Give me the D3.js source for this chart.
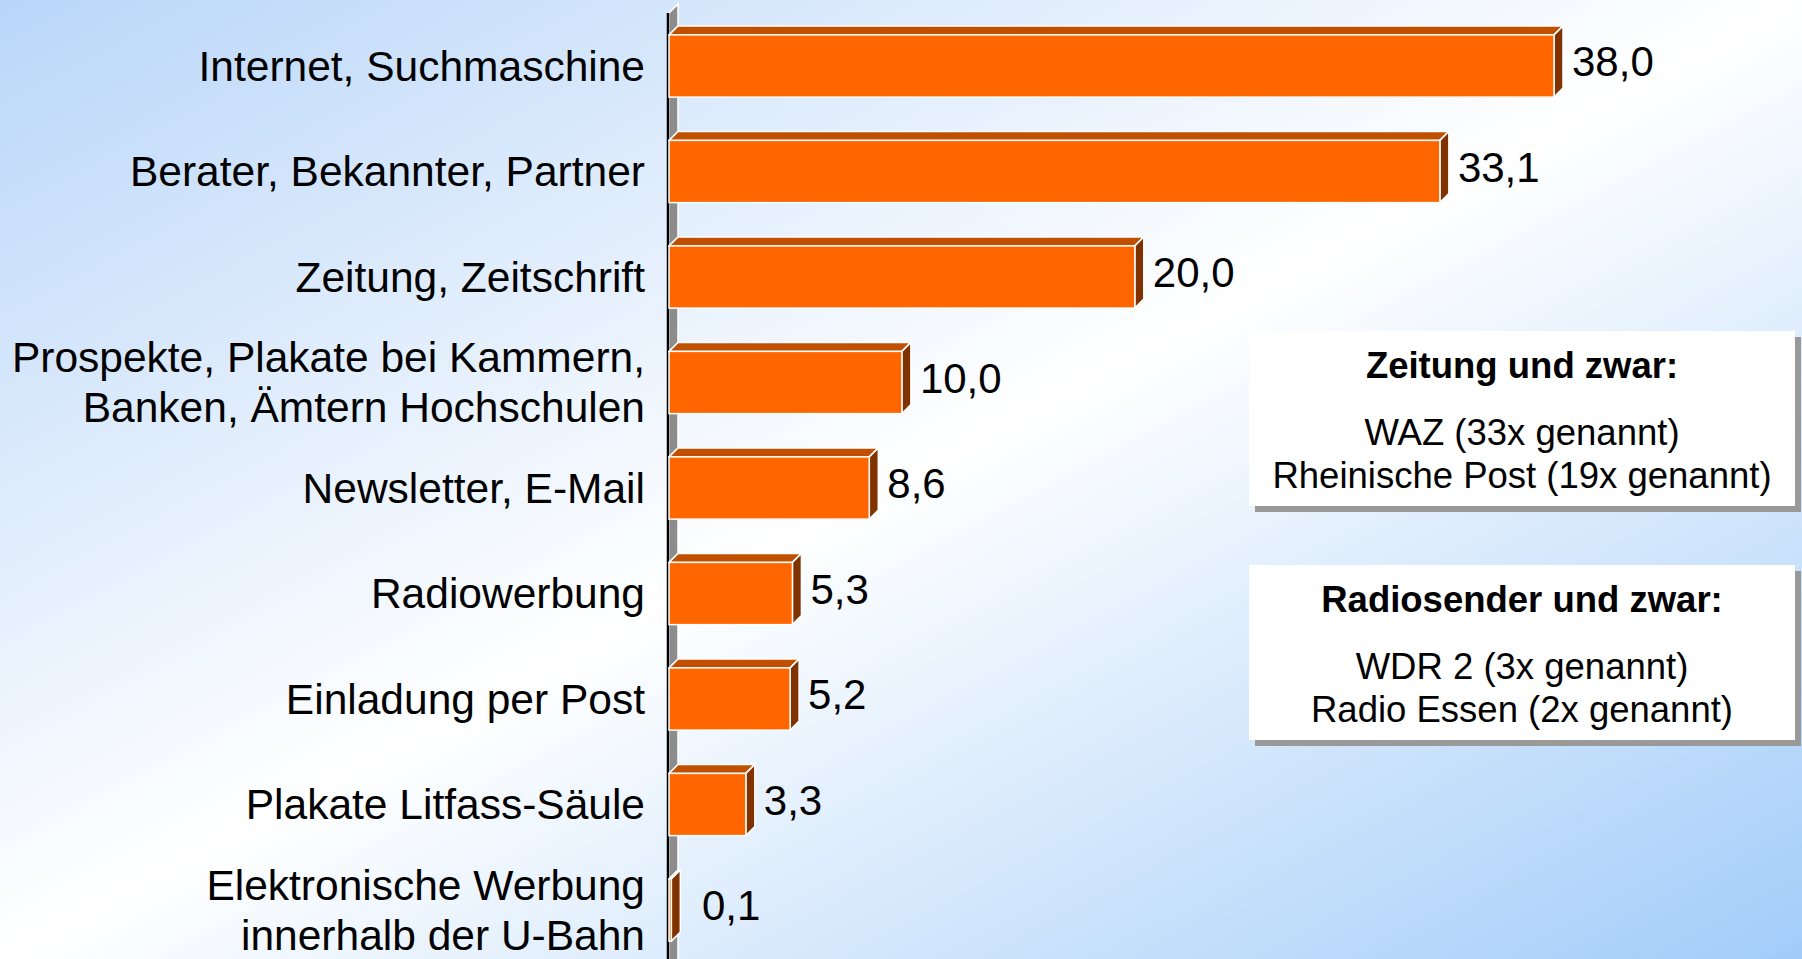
<!DOCTYPE html>
<html>
<head>
<meta charset="utf-8">
<script src="https://cdn.jsdelivr.net/npm/d3@7"></script>
<style>
  body { margin: 0; overflow: hidden; }
  text { font-family: "Liberation Sans", Arial, sans-serif; fill: #000; }
</style>
</head>
<body>
<div id="chart"></div>
<script>
// data
const categories = [
  "Internet, Suchmaschine",
  "Berater, Bekannter, Partner",
  "Zeitung, Zeitschrift",
  "Prospekte, Plakate bei Kammern,\nBanken, Ämtern Hochschulen",
  "Newsletter, E-Mail",
  "Radiowerbung",
  "Einladung per Post",
  "Plakate Litfass-Säule",
  "Elektronische Werbung\ninnerhalb der U-Bahn"
];
const values = [38.0, 33.1, 20.0, 10.0, 8.6, 5.3, 5.2, 3.3, 0.1];

const noteTitles = ["Zeitung und zwar:", "Radiosender und zwar:"];
const noteLines = [
  ["WAZ (33x genannt)", "Rheinische Post (19x genannt)"],
  ["WDR 2 (3x genannt)", "Radio Essen (2x genannt)"]
];

const W = 1802, H = 959;
const depth = 9;

const svg = d3.select("#chart")
  .append("svg")
  .attr("width", W)
  .attr("height", H);

const defs = svg.append("defs");
const grad = defs.append("linearGradient")
  .attr("id", "bg")
  .attr("x1", "0").attr("y1", "0")
  .attr("x2", "1").attr("y2", "1");
grad.append("stop").attr("offset", "0").attr("stop-color", "#b9d6f9");
grad.append("stop").attr("offset", "0.5").attr("stop-color", "#ffffff");
grad.append("stop").attr("offset", "1").attr("stop-color", "#a2ccf9");

svg.append("rect")
  .attr("width", W).attr("height", H)
  .attr("fill", "url(#bg)");

const x = d3.scaleLinear().domain([0, 38]).range([669, 1554]);
const y = d3.scaleBand()
  .domain(categories)
  .range([13.25, 962.75])
  .paddingInner(0.41)
  .paddingOuter(0.205);
const bw = y.bandwidth();

// side wall of the 3d chart
const x0 = x(0);
svg.append("path")
  .attr("d", `M${x0},13 L${x0 + depth},4 L${x0 + depth},${H + 5} L${x0},${H + 5} Z`)
  .attr("fill", "#8c8c8c")
  .attr("stroke", "#fff")
  .attr("stroke-width", 1.5);
svg.append("line")
  .attr("x1", x0 - 1).attr("x2", x0 - 1)
  .attr("y1", 13).attr("y2", H)
  .attr("stroke", "#000")
  .attr("stroke-width", 2.5);

const rows = categories.map((c, i) => ({ cat: c, value: values[i] }));

const bars = svg.selectAll("g.bar")
  .data(rows)
  .enter()
  .append("g")
  .attr("class", "bar");

bars.append("path")
  .attr("d", d => {
    const a = x0, b = x(d.value), t = y(d.cat);
    return `M${a},${t} L${a + depth},${t - depth} L${b + depth},${t - depth} L${b},${t} Z`;
  })
  .attr("fill", "#c04f00")
  .attr("stroke", "#fff")
  .attr("stroke-width", 1.5)
  .attr("stroke-linejoin", "round");

bars.append("path")
  .attr("d", d => {
    const b = x(d.value), t = y(d.cat);
    return `M${b},${t} L${b + depth},${t - depth} L${b + depth},${t + bw - depth} L${b},${t + bw} Z`;
  })
  .attr("fill", "#803300")
  .attr("stroke", "#fff")
  .attr("stroke-width", 1.5)
  .attr("stroke-linejoin", "round");

bars.append("rect")
  .attr("x", x0)
  .attr("y", d => y(d.cat))
  .attr("width", d => x(d.value) - x0)
  .attr("height", bw)
  .attr("fill", "#ff6600")
  .attr("stroke", "#fff")
  .attr("stroke-width", 1.5);

// value labels
const fmt = v => d3.format(".1f")(v).replace(".", ",");
bars.append("text")
  .attr("x", d => Math.max(x(d.value) + depth + 9, x0 + 33))
  .attr("y", d => y(d.cat) + bw / 2 - depth / 2)
  .attr("dy", "0.35em")
  .attr("font-size", 42)
  .text(d => fmt(d.value));

// category labels
const lineH = 50;
svg.selectAll("text.cat")
  .data(rows)
  .enter()
  .append("text")
  .attr("class", "cat")
  .attr("text-anchor", "end")
  .attr("font-size", 42.5)
  .each(function (d) {
    const lines = d.cat.split("\n");
    const cy = y(d.cat) + bw / 2;
    const start = cy - (lines.length - 1) * lineH / 2;
    lines.forEach((l, i) => {
      d3.select(this).append("tspan")
        .attr("x", 645)
        .attr("y", start + i * lineH)
        .attr("dy", "0.35em")
        .text(l);
    });
  });

// note boxes
const boxTop = [331, 565];
const boxX = 1249, boxW = 546, boxH = 175;
noteTitles.forEach((title, i) => {
  const g = svg.append("g").attr("transform", `translate(${boxX},${boxTop[i]})`);
  g.append("rect")
    .attr("x", 6).attr("y", 6)
    .attr("width", boxW).attr("height", boxH)
    .attr("fill", "#999");
  g.append("rect")
    .attr("width", boxW).attr("height", boxH)
    .attr("fill", "#fff");
  g.append("text")
    .attr("x", boxW / 2).attr("y", 47)
    .attr("text-anchor", "middle")
    .attr("font-size", 36.5)
    .attr("font-weight", "bold")
    .text(title);
  noteLines[i].forEach((l, j) => {
    g.append("text")
      .attr("x", boxW / 2).attr("y", 114 + j * 43)
      .attr("text-anchor", "middle")
      .attr("font-size", 36.5)
      .text(l);
  });
});
</script>
</body>
</html>
